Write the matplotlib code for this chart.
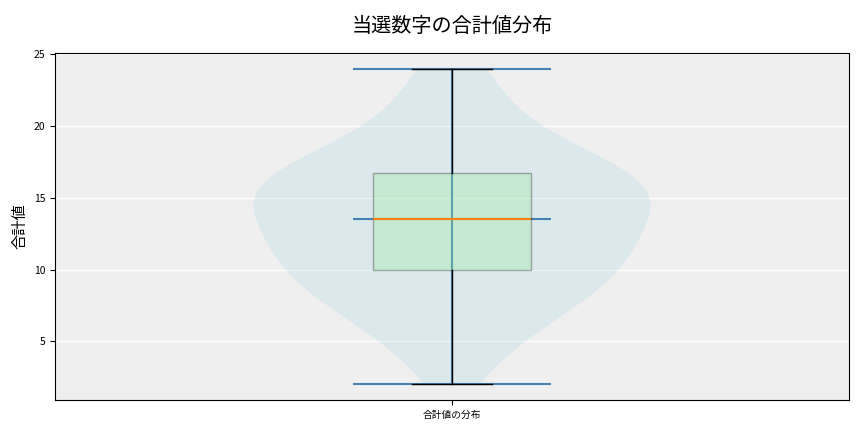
import numpy as np
import matplotlib
matplotlib.use("Agg")
import matplotlib.pyplot as plt

plt.rcParams['font.family'] = ['Noto Sans CJK JP', 'DejaVu Sans']

title = "当選数字の合計値分布"
ylabel = "合計値"
xlabel_tick = "合計値の分布"

sums = [2, 4, 5, 6, 6, 7, 7, 8, 8, 9, 9, 9, 10, 10,
        10, 10, 11, 11, 11, 12, 12, 12, 13, 13, 13,
        14, 14, 14, 14, 15, 15, 15, 15, 16, 16, 16, 16,
        17, 17, 17, 17, 18, 18, 18, 19, 20, 21, 22, 23, 24]

fig = plt.figure(figsize=(8.64, 4.32), dpi=100)
ax = fig.add_axes([55/864, 1-400/432, (849-55)/864, (400-53)/432])
ax.set_facecolor('#efefef')
ax.grid(axis='y', color='white', linewidth=1)
ax.set_axisbelow(True)

vp = ax.violinplot([sums], positions=[1], widths=0.5, showmeans=False,
                   showmedians=True, showextrema=True)
for b in vp['bodies']:
    b.set_facecolor('lightblue')
    b.set_edgecolor('none')
    b.set_alpha(0.3)
for k in ['cmins', 'cmaxes', 'cbars', 'cmedians']:
    vp[k].set_color('#4682b4')
    vp[k].set_linewidth(1.5)

bp = ax.boxplot([sums], positions=[1], widths=0.2, patch_artist=True,
                showfliers=False,
                medianprops=dict(color='C1', linewidth=1.5, zorder=3))
for p in bp['boxes']:
    p.set_facecolor('lightgreen')
    p.set_alpha(0.3)

ax.set_xticks([1])
ax.set_xticklabels([xlabel_tick], fontsize=7)
ax.tick_params(axis='y', labelsize=7.5)
ax.set_ylabel(ylabel, fontsize=11)
ax.set_title(title, fontsize=14.5, pad=15)

fig.savefig("out.png", dpi=100)
